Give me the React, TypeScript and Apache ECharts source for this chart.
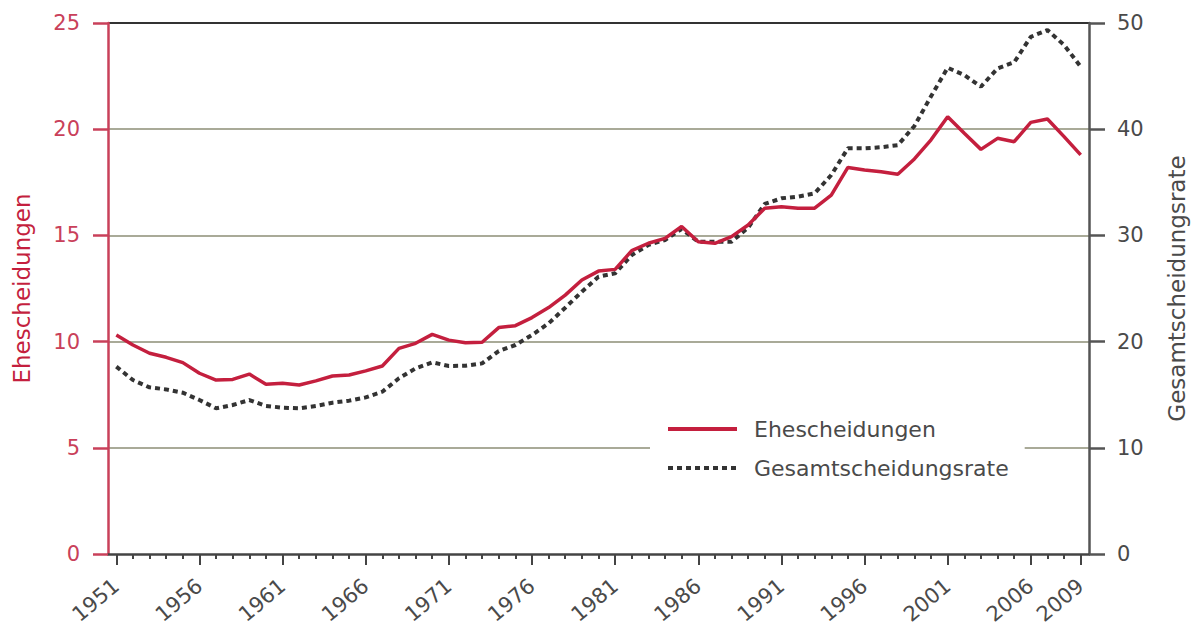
import React, { useEffect, useRef } from "react";
import * as echarts from "echarts";

const years = [
  "1951", "1952", "1953", "1954", "1955", "1956", "1957", "1958", "1959", "1960",
  "1961", "1962", "1963", "1964", "1965", "1966", "1967", "1968", "1969", "1970",
  "1971", "1972", "1973", "1974", "1975", "1976", "1977", "1978", "1979", "1980",
  "1981", "1982", "1983", "1984", "1985", "1986", "1987", "1988", "1989", "1990",
  "1991", "1992", "1993", "1994", "1995", "1996", "1997", "1998", "1999", "2000",
  "2001", "2002", "2003", "2004", "2005", "2006", "2007", "2008", "2009",
];

const ehescheidungen = [
  10.31, 9.84, 9.45, 9.26, 9.01, 8.51, 8.19, 8.22, 8.47, 7.99,
  8.04, 7.96, 8.15, 8.38, 8.43, 8.62, 8.85, 9.68, 9.92, 10.34,
  10.07, 9.95, 9.97, 10.66, 10.75, 11.13, 11.6, 12.19, 12.9, 13.32,
  13.4, 14.28, 14.63, 14.86, 15.42, 14.7, 14.63, 14.94, 15.49, 16.28,
  16.35, 16.28, 16.28, 16.9, 18.2, 18.08, 18.0, 17.88, 18.6, 19.5,
  20.59, 19.81, 19.05, 19.57, 19.41, 20.32, 20.48, 19.65, 18.79,
];

const gesamtscheidungsrate = [
  17.64, 16.38, 15.69, 15.5, 15.19, 14.5, 13.72, 14.03, 14.5, 13.94,
  13.78, 13.72, 13.94, 14.25, 14.44, 14.75, 15.28, 16.55, 17.48, 18.05,
  17.7, 17.73, 17.95, 19.11, 19.68, 20.62, 21.72, 23.19, 24.7, 26.11,
  26.43, 28.15, 29.1, 29.57, 30.6, 29.41, 29.4, 29.4, 30.73, 32.96,
  33.49, 33.65, 33.96, 35.69, 38.2, 38.2, 38.3, 38.5, 40.3, 43.1,
  45.79, 45.1, 44.0, 45.73, 46.3, 48.7, 49.34, 47.93, 45.89,
];

const FONT = '"DejaVu Sans", "Liberation Sans", sans-serif';
const RED = "#c41f3e";
const RED_AXIS = "#c9405a";
const GRAY = "#4a4a4a";
const GRIDC = "#a9aa98";

const labelled = (index: number) => index % 5 === 0 || index === years.length - 1;

export default function App() {
  const ref = useRef<HTMLDivElement>(null);
  useEffect(() => {
    if (!ref.current) return;
    const chart = echarts.init(ref.current, undefined, { renderer: "svg" });
    chart.setOption({
      animation: false,
      textStyle: { fontFamily: FONT },
      grid: { left: 108, right: 106, top: 23, bottom: 74, containLabel: false },
      legend: {
        orient: "vertical",
        left: 650,
        top: 412,
        backgroundColor: "#ffffff",
        padding: [6, 16, 6, 16],
        itemWidth: 69,
        itemHeight: 22,
        itemGap: 17,
        itemStyle: { opacity: 0, borderWidth: 0 },
        lineStyle: { width: 4 },
        textStyle: { fontFamily: FONT, fontSize: 22, color: GRAY, padding: [0, 0, 0, 12] },
        data: ["Ehescheidungen", "Gesamtscheidungsrate"],
      },
      xAxis: [
        {
          type: "category",
          data: years,
          boundaryGap: true,
          axisLine: { show: true, lineStyle: { color: "#444", width: 2.5 } },
          axisTick: {
            show: true,
            alignWithLabel: true,
            interval: labelled,
            length: 11,
            lineStyle: { color: "#444", width: 2 },
          },
          axisLabel: {
            interval: labelled,
            rotate: 40,
            margin: 29,
            color: GRAY,
            fontSize: 21,
            fontFamily: FONT,
          },
          splitLine: { show: false },
        },
        {
          type: "category",
          data: years,
          position: "bottom",
          boundaryGap: true,
          axisLine: { show: false },
          axisTick: {
            show: true,
            alignWithLabel: true,
            interval: 0,
            length: 5,
            lineStyle: { color: "#444", width: 2 },
          },
          axisLabel: { show: false },
          splitLine: { show: false },
        },
      ],
      yAxis: [
        {
          type: "value",
          min: 0,
          max: 25,
          interval: 5,
          position: "left",
          name: "Ehescheidungen",
          nameLocation: "middle",
          nameGap: 75,
          nameRotate: 90,
          nameTextStyle: { color: RED, fontSize: 23, fontFamily: FONT },
          axisLine: { show: true, lineStyle: { color: RED_AXIS, width: 2.5 } },
          axisTick: { show: true, length: 15, lineStyle: { color: RED_AXIS, width: 2.5 } },
          axisLabel: { color: RED_AXIS, fontSize: 21, margin: 28, fontFamily: FONT },
          splitLine: {
            show: true,
            lineStyle: {
              color: ["rgba(0,0,0,0)", GRIDC, GRIDC, GRIDC, GRIDC, "#333333"],
              width: 2,
            },
          },
        },
        {
          type: "value",
          min: 0,
          max: 50,
          interval: 10,
          position: "right",
          name: "Gesamtscheidungsrate",
          nameLocation: "middle",
          nameGap: 76,
          nameRotate: 90,
          nameTextStyle: { color: GRAY, fontSize: 23, fontFamily: FONT },
          axisLine: { show: true, lineStyle: { color: "#555", width: 2.5 } },
          axisTick: { show: true, length: 16, lineStyle: { color: "#555", width: 2.5 } },
          axisLabel: { color: GRAY, fontSize: 21, margin: 28, fontFamily: FONT },
          splitLine: { show: false },
        },
      ],
      series: [
        {
          name: "Ehescheidungen",
          type: "line",
          data: ehescheidungen,
          xAxisIndex: 0,
          yAxisIndex: 0,
          symbol: "none",
          lineStyle: { color: RED, width: 3.5 },
          itemStyle: { color: RED },
          z: 3,
        },
        {
          name: "Gesamtscheidungsrate",
          type: "line",
          data: gesamtscheidungsrate,
          xAxisIndex: 0,
          yAxisIndex: 1,
          symbol: "none",
          lineStyle: { color: "#333333", width: 4, type: [5, 4] },
          itemStyle: { color: "#333333" },
          z: 2,
        },
      ],
    });
    return () => chart.dispose();
  }, []);
  return (
    <div
      ref={ref}
      style={{ position: "absolute", left: 0, top: 0, width: 1196, height: 628, background: "#fff" }}
    />
  );
}
